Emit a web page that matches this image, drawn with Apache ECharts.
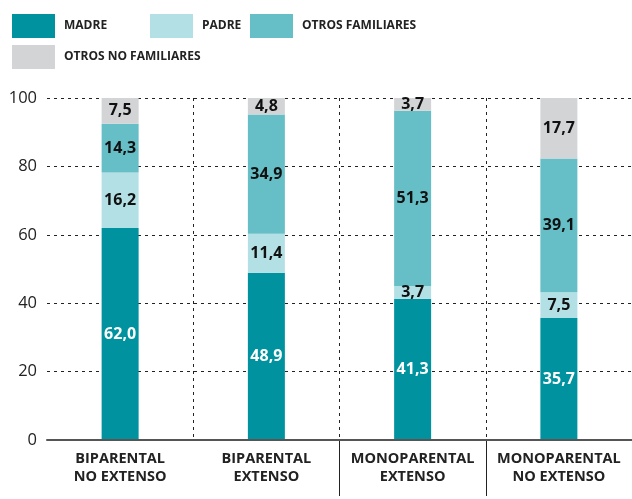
<!DOCTYPE html>
<html><head><meta charset="utf-8">
<script src="https://cdn.jsdelivr.net/npm/echarts@6/dist/echarts.min.js"></script>
<style>html,body{margin:0;padding:0;background:#fff}#c{width:632px;height:499px}</style>
</head><body><div id="c"></div>
<script>
var categories = ['BIPARENTAL\nNO EXTENSO', 'BIPARENTAL\nEXTENSO', 'MONOPARENTAL\nEXTENSO', 'MONOPARENTAL\nNO EXTENSO'];
var madre = [62.0, 48.9, 41.3, 35.7];
var padre = [16.2, 11.4, 3.7, 7.5];
var otrosFamiliares = [14.3, 34.9, 51.3, 39.1];
var otrosNoFamiliares = [7.5, 4.8, 3.7, 17.7];
var yTicks = [0, 20, 40, 60, 80, 100];
var seriesNames = ['MADRE', 'PADRE', 'OTROS FAMILIARES', 'OTROS NO FAMILIARES'];
var colors = ['#00939f', '#b3e0e4', '#66bec7', '#d3d4d6'];

var font = 'Open Sans';
function fmt(p){ return p.value.toFixed(1).replace('.', ','); }
function mk(name, data, color, labelColor){
  return {
    name: name, type: 'bar', stack: 'a', data: data, barWidth: 37,
    itemStyle: {color: color},
    label: {show: true, position: 'inside', formatter: fmt, color: labelColor,
      fontFamily: font, fontWeight: 'bold', fontSize: 16}
  };
}
function legend(i, left, top){
  return {
    data: [seriesNames[i]], left: left, top: top, itemWidth: 43, itemHeight: 24,
    icon: 'rect', selectedMode: false,
    textStyle: {fontFamily: font, fontWeight: 'bold', fontSize: 12, color: '#222',
      padding: [12, 0, 0, 4]}
  };
}
var chart = echarts.init(document.getElementById('c'), null, {renderer: 'canvas'});
chart.setOption({
  animation: false,
  color: colors,
  legend: [legend(0, 7, 9), legend(1, 145, 9), legend(2, 245, 9), legend(3, 7, 40)],
  grid: [
    {left: 47, right: 0, top: 98, bottom: 59, containLabel: false, show: false},
    {left: 47, right: 0, top: 441, bottom: 3, containLabel: false, show: false}
  ],
  xAxis: [{
    type: 'category', data: categories, gridIndex: 0, z: 5,
    axisLine: {show: true, lineStyle: {color: '#555', width: 2}},
    axisTick: {show: false},
    splitLine: {show: true, showMinLine: false, showMaxLine: false,
      lineStyle: {color: '#222', type: [3, 4], width: 1}},
    axisLabel: {fontFamily: font, fontWeight: 'bold', fontSize: 14.5, color: '#222',
      lineHeight: 18, margin: 10, interval: 0}
  }, {
    type: 'category', data: categories, gridIndex: 1,
    axisLine: {show: false}, axisTick: {show: false}, axisLabel: {show: false},
    splitLine: {show: true, showMinLine: false, showMaxLine: false,
      interval: function(i){ return i > 0; },
      lineStyle: {color: '#222', type: 'solid', width: 1}}
  }],
  yAxis: [{
    type: 'value', min: 0, max: 100, interval: 20, gridIndex: 0,
    axisLine: {show: false}, axisTick: {show: false},
    splitLine: {show: true, showMinLine: false, lineStyle: {color: '#222', type: [3, 4], width: 1}},
    axisLabel: {fontFamily: font, fontSize: 16.5, color: '#222', margin: 10,
      formatter: function(v){ return yTicks.indexOf(v) >= 0 ? String(v) : ''; }}
  }, {
    type: 'value', gridIndex: 1, min: 0, max: 1,
    axisLine: {show: false}, axisTick: {show: false}, axisLabel: {show: false},
    splitLine: {show: false}
  }],
  series: [
    mk(seriesNames[0], madre, colors[0], '#fff'),
    mk(seriesNames[1], padre, colors[1], '#111'),
    mk(seriesNames[2], otrosFamiliares, colors[2], '#111'),
    mk(seriesNames[3], otrosNoFamiliares, colors[3], '#111')
  ]
});
</script></body></html>
